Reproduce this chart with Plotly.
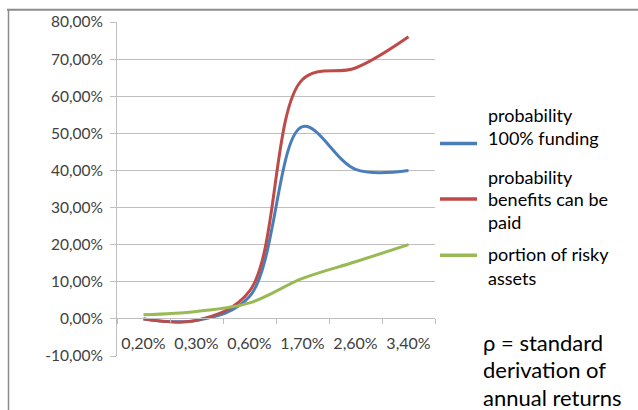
import plotly.graph_objects as go

# Standard deviation of annual returns (category axis)
categories = ["0,20%", "0,30%", "0,60%", "1,70%", "2,60%", "3,40%"]

# Series values in percent
prob_full_funding = [0.0, -0.4, 6.0, 51.8, 40.3, 40.0]
prob_benefits_paid = [0.0, -0.4, 7.5, 64.5, 67.6, 76.0]
risky_share = [1.1, 2.0, 4.3, 10.9, 15.4, 20.0]

y_ticks = [-10, 0, 10, 20, 30, 40, 50, 60, 70, 80]
y_tick_text = [f"{v:.2f}%".replace(".", ",") for v in y_ticks]

series = [
    ("probability 100% funding", prob_full_funding, "#4A7EBB"),
    ("probability benefits can be paid", prob_benefits_paid, "#BE4B48"),
    ("portion of risky assets", risky_share, "#98B954"),
]

FONT = "Lato"
GRAY = "#bfbfbf"
TICK_COLOR = "#404040"

# pixel geometry of the plot area
L, R, T, B = 117, 435, 18, 356
W, H = 638, 410
PW, PH = R - L, B - T


def px(x):
    return (x - L) / PW


def py(y):
    return (B - y) / PH


fig = go.Figure()
for name, vals, color in series:
    fig.add_trace(go.Scatter(
        x=categories, y=vals, mode="lines", name=name,
        line=dict(color=color, width=3, shape="spline", smoothing=1.0),
        showlegend=False,
    ))

# legend drawn by hand: sample line + wrapped label lines
legend_items = [
    ("#4A7EBB", 141, [("probability", 112), ("100% funding", 135)]),
    ("#BE4B48", 197, [("probability", 175), ("benefits can be", 197), ("paid", 220)]),
    ("#98B954", 254, [("portion of risky", 253), ("assets", 277)]),
]
shapes = []
annotations = []
for color, ly, lines in legend_items:
    shapes.append(dict(type="line", xref="paper", yref="paper",
                       x0=px(440), x1=px(477), y0=py(ly), y1=py(ly),
                       line=dict(color=color, width=3.5)))
    for txt, ty in lines:
        annotations.append(dict(text=txt, xref="paper", yref="paper",
                                x=px(486), y=py(ty), xanchor="left", yanchor="middle",
                                showarrow=False, font=dict(family=FONT, size=18, color="#000")))

for txt, ty in [("ρ = standard", 342), ("derivation of", 370), ("annual returns", 398)]:
    annotations.append(dict(text=txt, xref="paper", yref="paper",
                            x=px(481), y=py(ty), xanchor="left", yanchor="middle",
                            showarrow=False, font=dict(family=FONT, size=22, color="#000")))

# chart-area frame (top and left edges)
shapes.append(dict(type="line", xref="paper", yref="paper",
                   x0=px(7), x1=px(W), y0=py(5.5), y1=py(5.5),
                   line=dict(color="#8c8c8c", width=2)))
shapes.append(dict(type="line", xref="paper", yref="paper",
                   x0=px(8.5), x1=px(8.5), y0=py(5), y1=py(W),
                   line=dict(color="#8c8c8c", width=1.5)))

fig.update_layout(
    width=W, height=H,
    margin=dict(l=L, r=W - R, t=T, b=H - B),
    paper_bgcolor="white", plot_bgcolor="white",
    font=dict(family=FONT, size=15, color=TICK_COLOR),
    xaxis=dict(
        type="category", range=[-0.5, len(categories) - 0.5],
        anchor="free", position=py(318),
        tickson="boundaries", ticks="outside", ticklen=5, tickcolor=GRAY,
        showline=True, linecolor=GRAY, linewidth=1, showgrid=False,
        tickangle=0, ticklabelstandoff=10,
        tickfont=dict(family=FONT, size=16, color=TICK_COLOR),
    ),
    yaxis=dict(
        range=[-10, 80], tickvals=y_ticks, ticktext=y_tick_text,
        ticks="outside", ticklen=6, tickcolor=GRAY,
        showline=True, linecolor=GRAY, linewidth=1,
        showgrid=True, gridcolor=GRAY, gridwidth=1, zeroline=False,
        ticklabelstandoff=4, tickfont=dict(family=FONT, size=15.5, color=TICK_COLOR),
    ),
    shapes=shapes, annotations=annotations,
)

fig.write_html("out.html")
